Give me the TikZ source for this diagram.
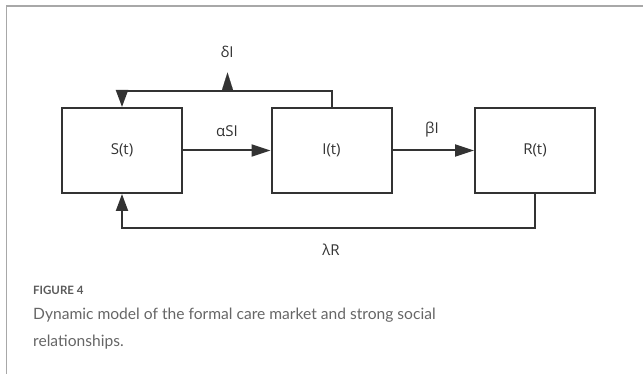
\documentclass[tikz,border=0pt]{standalone}
\usepackage{fontspec}
\setmainfont{Open Sans}
\newfontfamily\capfont{Lato}
\usetikzlibrary{arrows.meta}
\definecolor{ink}{HTML}{333333}
\definecolor{framegray}{HTML}{A8A8A8}
\definecolor{capgray}{HTML}{5A5A5A}
\definecolor{captext}{HTML}{666666}
\begin{document}
\begin{tikzpicture}[x=1pt,y=-1pt,
  box/.style={draw=ink,line width=2pt,minimum width=120pt,minimum height=85pt,inner sep=0pt,font=\fontsize{15}{17}\selectfont,text=ink},
  flow/.style={draw=ink,line width=2pt,-{Triangle[length=19pt,width=12pt]}},
  lbl/.style={font=\fontsize{15}{17}\selectfont,text=ink,inner sep=0pt}]
  \useasboundingbox (0,0) rectangle (643,374);
  % panel frame
  \draw[framegray,line width=1.5pt] (6.5,374) -- (6.5,6) -- (643,6);

  % compartments
  \node[box] (S) at (122,150.5) {S(t)};
  \node[box] (I) at (331.5,150.5) {I(t)};
  \node[box] (R) at (535,150.5) {R(t)};

  % forward flows
  \draw[flow] (S.east) -- (I.west);
  \draw[flow] (I.east) -- (R.west);
  \node[lbl] (aSI) at (227,131) {αSI};
  \node[lbl] (bI) at (432,130) {βI};

  % feedback from I back to S over the top
  \coordinate (topR) at (331.5,91);
  \coordinate (topL) at (122,91);
  \draw[flow,-{Triangle[length=17pt,width=12pt]}] (I.north) -- (topR) -- (topL) -- (S.north);
  \coordinate (dmid) at (227.5,91);
  \coordinate (dtip) at (227.5,72.5);
  \draw[flow,line width=0.1pt] (dmid) -- (dtip);
  \node[lbl] (dI) at (227,52) {δI};

  % feedback from R back to S along the bottom
  \coordinate (botR) at (535,228);
  \coordinate (botL) at (122,228);
  \draw[flow,-{Triangle[length=17pt,width=12pt]}] (R.south) -- (botR) -- (botL) -- (S.south);
  \node[lbl] (lR) at (331,250) {λR};

  % caption
  \node[anchor=west,inner sep=0pt,text=capgray,font=\capfont\fontsize{11.5}{14}\selectfont\bfseries] (fig) at (33,290) {FIGURE 4};
  \node[anchor=north west,inner sep=0pt,text=captext,align=left,font=\capfont\fontsize{15.6}{27}\selectfont] (cap) at (33,307.5)
    {Dynamic model of the formal care market and strong social\\relationships.};
\end{tikzpicture}
\end{document}
